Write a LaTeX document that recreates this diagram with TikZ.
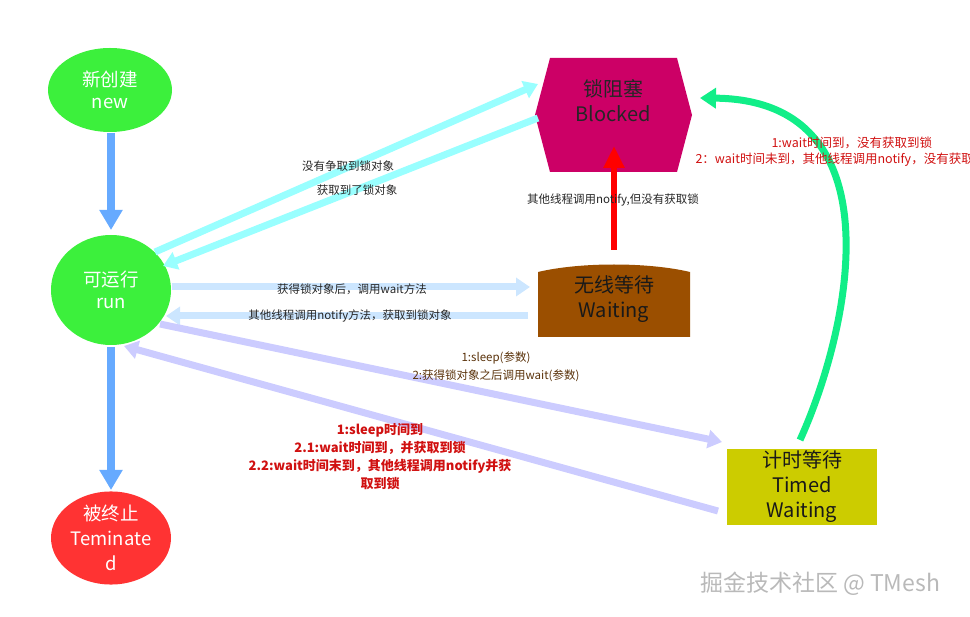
\documentclass[tikz,border=0pt]{standalone}
\usepackage{fontspec}
\setmainfont{Noto Sans CJK SC}
\usetikzlibrary{shapes.geometric,arrows.meta}
\definecolor{gr}{HTML}{3CF03C}
\definecolor{rd}{HTML}{FF3333}
\definecolor{mag}{HTML}{CC0066}
\definecolor{brn}{HTML}{9B4F00}
\definecolor{yel}{HTML}{CCCC00}
\definecolor{bl}{HTML}{66AAFF}
\definecolor{cy}{HTML}{99FFFF}
\definecolor{lb}{HTML}{CCE6FF}
\definecolor{lav}{HTML}{CCCCFF}
\definecolor{grn}{HTML}{11EE88}
\definecolor{lbl}{HTML}{D01010}
\begin{document}
\begin{tikzpicture}[x=1pt,y=-1pt,
  st/.style={ellipse,minimum width=124pt,text=white,font=\fontsize{18.5}{22}\selectfont,align=center,inner sep=0pt},
  ar/.style={line width=#1,-{Triangle[length=14pt,width=18pt]}},
  sm/.style={font=\fontsize{11.5}{13}\selectfont,text=black!85},
  rl/.style={font=\bfseries\fontsize{13}{18}\selectfont,text=lbl,align=center}]
\useasboundingbox (0,0) rectangle (970,617);
\clip (0,0) rectangle (970,617);
\node[st,fill=gr,minimum width=124pt,minimum height=84pt] (new) at (110,90) {新创建\\new};
\node[st,fill=gr,minimum width=120pt,minimum height=110pt] (run) at (111,290) {可运行\\run};
\node[st,fill=rd,minimum width=120pt,minimum height=92pt,font=\fontsize{18.5}{25}\selectfont] (term) at (111,538) {被终止\\Teminate\\d};
\fill[mag] (535,115) -- (550,58) -- (677,58) -- (692,115) -- (677,172) -- (550,172) -- cycle;
\node[font=\fontsize{20}{25}\selectfont,align=center,text=black!85] (blk) at (613,101) {锁阻塞\\Blocked};
\fill[brn] (538,337) -- (538,272) .. controls (580,262) and (648,262) .. (690,272) -- (690,337) -- cycle;
\node[font=\fontsize{20}{25}\selectfont,align=center,text=black!90] (wait) at (614,299) {无线等待\\Waiting};
\node[fill=yel,minimum width=150pt,minimum height=76pt,font=\fontsize{20}{25}\selectfont,align=center,text=black!90,inner sep=0pt] (tw) at (802,487) {计时等待\\Timed\\Waiting};
\coordinate (a1) at (111,133); \coordinate (a2) at (111,230);
\draw[line width=8pt,bl,-{Triangle[length=20pt,width=22pt]}] (a1) -- (a2);
\coordinate (b1) at (111,347); \coordinate (b2) at (111,490);
\draw[line width=8pt,bl,-{Triangle[length=20pt,width=22pt]}] (b1) -- (b2);
\coordinate (c1) at (155,252); \coordinate (c2) at (538,84);
\draw[ar=7pt,cy] (c1) -- (c2);
\coordinate (d1) at (538,118); \coordinate (d2) at (163,266);
\draw[ar=7pt,cy] (d1) -- (d2);
\node[sm] (l1) at (348,166) {没有争取到锁对象};
\node[sm] (l2) at (357,190) {获取到了锁对象};
\coordinate (e1) at (172,287); \coordinate (e2) at (530,287);
\draw[ar=7pt,lb] (e1) -- (e2);
\coordinate (f1) at (528,316); \coordinate (f2) at (166,316);
\draw[ar=7pt,lb] (f1) -- (f2);
\node[sm] (l3) at (352,289) {获得锁对象后，调用wait方法};
\node[sm] (l4) at (350,316) {其他线程调用notify方法，获取到锁对象};
\coordinate (g1) at (614,250); \coordinate (g2) at (614,146);
\draw[line width=6pt,red,-{Triangle[length=22pt,width=20pt]}] (g1) -- (g2);
\node[sm] (l5) at (613,200) {其他线程调用notify,但没有获取锁};
\coordinate (h1) at (160,324); \coordinate (h2) at (722,442);
\draw[ar=7pt,lav] (h1) -- (h2);
\coordinate (i1) at (718,511); \coordinate (i2) at (124,346);
\draw[ar=7pt,lav] (i1) -- (i2);
\node[sm,text={rgb,255:red,90;green,50;blue,10}] (l6) at (496,358) {1:sleep(参数)};
\node[sm,text={rgb,255:red,90;green,50;blue,10}] (l7) at (496,376) {2:获得锁对象之后调用wait(参数)};
\node[rl] (l8) at (380,457) {1:sleep时间到\\2.1:wait时间到，并获取到锁\\2.2:wait时间末到，其他线程调用notify并获\\取到锁};
\coordinate (j1) at (800,440); \coordinate (j2) at (700,98);
\draw[line width=7pt,grn,-{Triangle[length=16pt,width=20pt]}] (j1) .. controls (850,330) and (900,100) .. (j2);
\node[font=\fontsize{12.5}{14}\selectfont,text=lbl,anchor=west] (l9) at (768,143) {1:wait时间到，没有获取到锁};
\node[font=\fontsize{12.5}{14}\selectfont,text=lbl,anchor=west] (l10) at (692,160) {2：wait时间未到，其他线程调用notify，没有获取到锁};
\node[font=\fontsize{23}{26}\selectfont,text=gray!55] (wm) at (820,584) {掘金技术社区 @ TMesh};
\end{tikzpicture}
\end{document}
